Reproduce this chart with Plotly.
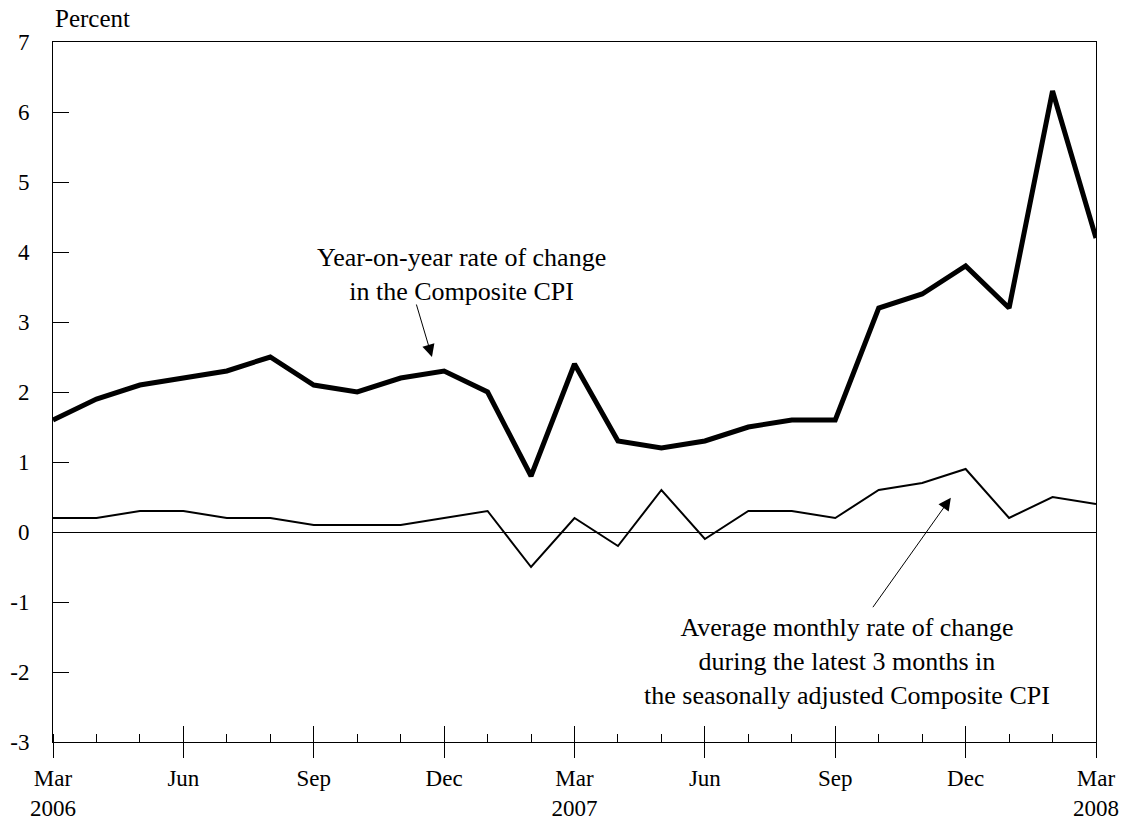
import plotly.graph_objects as go

# Data
months = list(range(25))  # Mar 2006 .. Mar 2008 (monthly index)
yoy = [1.6, 1.9, 2.1, 2.2, 2.3, 2.5, 2.1, 2.0, 2.2, 2.3, 2.0, 0.8, 2.4,
       1.3, 1.2, 1.3, 1.5, 1.6, 1.6, 3.2, 3.4, 3.8, 3.2, 6.3, 4.2]
avg3m = [0.2, 0.2, 0.3, 0.3, 0.2, 0.2, 0.1, 0.1, 0.1, 0.2, 0.3, -0.5, 0.2,
         -0.2, 0.6, -0.1, 0.3, 0.3, 0.2, 0.6, 0.7, 0.9, 0.2, 0.5, 0.4]
major_ticks = [0, 3, 6, 9, 12, 15, 18, 21, 24]
major_labels = ["Mar<br>2006", "Jun", "Sep", "Dec", "Mar<br>2007",
                "Jun", "Sep", "Dec", "Mar<br>2008"]
y_ticks = [-3, -2, -1, 0, 1, 2, 3, 4, 5, 6, 7]
y_labels = ["-3", "-2", "-1", "0", "1", "2", "3", "4", "5", "6", "7"]

FONT = "Liberation Serif, Times New Roman, serif"

fig = go.Figure()
fig.add_trace(go.Scatter(x=months, y=avg3m, mode="lines",
                         line=dict(color="black", width=2), showlegend=False,
                         hoverinfo="skip"))
fig.add_trace(go.Scatter(x=months, y=yoy, mode="lines",
                         line=dict(color="black", width=5), showlegend=False,
                         hoverinfo="skip"))
# invisible trace to keep the overlay axis (inner half of major ticks)
fig.add_trace(go.Scatter(x=[months[0]], y=[yoy[0]], xaxis="x2", mode="markers",
                         marker=dict(opacity=0), showlegend=False,
                         hoverinfo="skip"))

fig.update_layout(
    width=1127, height=823,
    margin=dict(l=53, r=31, t=42, b=81),
    paper_bgcolor="white", plot_bgcolor="white",
    font=dict(family=FONT, size=24, color="black"),
    xaxis=dict(
        range=[0, 24], tickmode="array", tickvals=major_ticks,
        ticktext=major_labels, ticks="outside", ticklen=15, tickwidth=1,
        tickcolor="black", showline=True, linecolor="black", linewidth=1,
        mirror=True, showgrid=False, zeroline=False, automargin=False,
        minor=dict(ticks="inside", dtick=1, tick0=0, ticklen=8,
                   tickwidth=1, tickcolor="black", showgrid=False),
        tickfont=dict(family=FONT, size=23),
    ),
    xaxis2=dict(
        range=[0, 24], overlaying="x", anchor="y", side="bottom",
        tickmode="array", tickvals=major_ticks, ticks="inside", ticklen=16,
        tickwidth=1, tickcolor="black", showticklabels=False,
        showgrid=False, zeroline=False, showline=False, automargin=False,
    ),
    yaxis=dict(
        range=[-3, 7], tickmode="array", tickvals=y_ticks, ticktext=y_labels,
        ticks="inside", ticklen=16, tickwidth=1, tickcolor="black",
        showline=True, linecolor="black", linewidth=1, mirror=True,
        showgrid=False, zeroline=True, zerolinecolor="black",
        zerolinewidth=1, ticklabelstandoff=18, automargin=False,
        tickfont=dict(family=FONT, size=23),
    ),
    annotations=[
        dict(text="Percent", xref="paper", yref="paper", x=0, y=1,
             xanchor="left", yanchor="bottom", yshift=8, showarrow=False,
             font=dict(family=FONT, size=25)),
        dict(text="Year-on-year rate of change<br>in the Composite CPI",
             x=9.39, y=3.68, xref="x", yref="y", showarrow=False,
             align="center", font=dict(family=FONT, size=26)),
        dict(text="", x=8.72, y=2.50, xref="x", yref="y", showarrow=True,
             ax=-16, ay=-54, arrowhead=2, arrowsize=2.5, arrowwidth=1,
             arrowcolor="black"),
        dict(text="Average monthly rate of change<br>during the latest 3 months in"
                  "<br>the seasonally adjusted Composite CPI",
             x=18.27, y=-1.855, xref="x", yref="y", showarrow=False,
             align="center", font=dict(family=FONT, size=26)),
        dict(text="", x=20.66, y=0.49, xref="x", yref="y", showarrow=True,
             ax=-79, ay=111, arrowhead=2, arrowsize=2.5, arrowwidth=1,
             arrowcolor="black"),
    ],
)

fig.write_html(
    "out.html",
    config={"displayModeBar": False},
    post_script="document.body.style.margin='0';document.body.style.overflow='hidden';",
)
